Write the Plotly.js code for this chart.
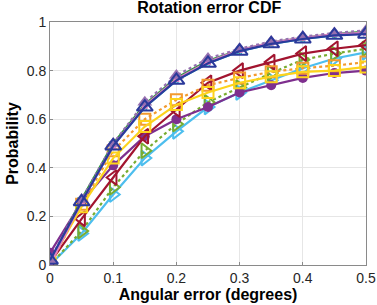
<!DOCTYPE html>
<html><head><meta charset="utf-8">
<script src="https://cdn.plot.ly/plotly-3.0.1.min.js"></script>
<style>html,body{margin:0;padding:0;background:#fff}#chart{width:377px;height:305px}</style>
</head><body><div id="chart"></div>
<script>
const xValues = [0, 0.05, 0.1, 0.15, 0.2, 0.25, 0.3, 0.35, 0.4, 0.45, 0.5];
const lightBlue   = [0.00, 0.13, 0.29, 0.44, 0.55, 0.65, 0.71, 0.76, 0.81, 0.85, 0.875];
const greenDotted = [0.00, 0.14, 0.32, 0.47, 0.58, 0.67, 0.73, 0.79, 0.845, 0.87, 0.89];
const purpleCirc  = [0.05, 0.26, 0.41, 0.53, 0.60, 0.65, 0.71, 0.74, 0.77, 0.79, 0.80];
const darkRed     = [0.01, 0.19, 0.36, 0.53, 0.64, 0.75, 0.80, 0.835, 0.87, 0.89, 0.905];
const orangeDot   = [0.00, 0.25, 0.47, 0.60, 0.68, 0.74, 0.77, 0.795, 0.81, 0.82, 0.835];
const yellowSq    = [0.01, 0.24, 0.44, 0.57, 0.66, 0.71, 0.75, 0.775, 0.795, 0.80, 0.815];
const cyanStar    = [0.01, 0.26, 0.49, 0.65, 0.76, 0.83, 0.88, 0.91, 0.93, 0.945, 0.955];
const greenTri    = [0.01, 0.27, 0.50, 0.66, 0.77, 0.84, 0.885, 0.915, 0.935, 0.95, 0.96];
const pinkLine    = [0.00, 0.26, 0.49, 0.655, 0.765, 0.835, 0.885, 0.915, 0.935, 0.95, 0.955];
const purpleDot   = [0.02, 0.27, 0.50, 0.67, 0.78, 0.85, 0.89, 0.92, 0.94, 0.955, 0.965];
const blueTri     = [0.02, 0.26, 0.49, 0.65, 0.76, 0.83, 0.88, 0.91, 0.93, 0.945, 0.95];

function tr(y, color, dash, symbol, size, lw) {
  return {
    x: xValues, y: y, type: 'scatter', mode: 'lines+markers',
    line: {color: color, width: 2.2, dash: dash},
    marker: {symbol: symbol, size: size, color: color, line: {color: color, width: lw}},
    showlegend: false, hoverinfo: 'skip'
  };
}
const data = [
  tr(lightBlue, '#4dbeee', 'solid', 'triangle-right-open', 13, 2),
  tr(greenDotted, '#77ac30', 'dot', 'triangle-right-open', 13, 2),
  tr(purpleCirc, '#7e2f8e', 'solid', 'circle', 10, 0),
  tr(darkRed, '#a2142f', 'solid', 'triangle-left-open', 13, 2),
  tr(orangeDot, '#f39a2e', 'dot', 'square-open', 11, 2),
  tr(yellowSq, '#fdd31c', 'solid', 'square-open', 11, 2),
  tr(cyanStar, '#20b8c8', 'solid', 'star', 7, 0),
  tr(greenTri, '#2a9a3c', 'solid', 'triangle-down', 8, 0),
  tr(pinkLine, '#e27fc4', 'solid', 'square', 6, 0),
  tr(purpleDot, '#9670b0', 'dot', 'triangle-up', 13, 0),
  tr(blueTri, '#2b3a9b', 'solid', 'triangle-up-open', 14, 2)
];
const fam = 'Liberation Sans, Arial, sans-serif';
const layout = {
  width: 377, height: 305,
  margin: {l: 50, r: 11, t: 22, b: 40},
  paper_bgcolor: '#fff', plot_bgcolor: '#fff',
  title: {text: '<b>Rotation error CDF</b>', font: {family: fam, size: 16, color: '#000'},
          x: 0.555, xanchor: 'center', y: 0.995, yanchor: 'top'},
  xaxis: {
    range: [0, 0.5], tickvals: [0, 0.1, 0.2, 0.3, 0.4, 0.5], ticktext: ['0', '0.1', '0.2', '0.3', '0.4', '0.5'],
    showgrid: true, gridcolor: '#e6e6e6', zeroline: false,
    showline: true, mirror: true, linecolor: '#8a8a8a', linewidth: 1,
    ticks: 'inside', ticklen: 3, tickcolor: '#8a8a8a',
    tickfont: {family: fam, size: 14, color: '#262626'},
    title: {text: '<b>Angular error (degrees)</b>', font: {family: fam, size: 16, color: '#000'}, standoff: 1}
  },
  yaxis: {
    range: [0, 1], tickvals: [0, 0.2, 0.4, 0.6, 0.8, 1], ticktext: ['0', '0.2', '0.4', '0.6', '0.8', '1'],
    showgrid: true, gridcolor: '#e6e6e6', zeroline: false,
    showline: true, mirror: true, linecolor: '#8a8a8a', linewidth: 1,
    ticks: 'inside', ticklen: 3, tickcolor: '#8a8a8a',
    tickfont: {family: fam, size: 14, color: '#262626'},
    title: {text: '<b>Probability</b>', font: {family: fam, size: 16, color: '#000'}, standoff: 4}
  }
};
Plotly.newPlot('chart', data, layout, {displayModeBar: false, staticPlot: true});
</script></body></html>
